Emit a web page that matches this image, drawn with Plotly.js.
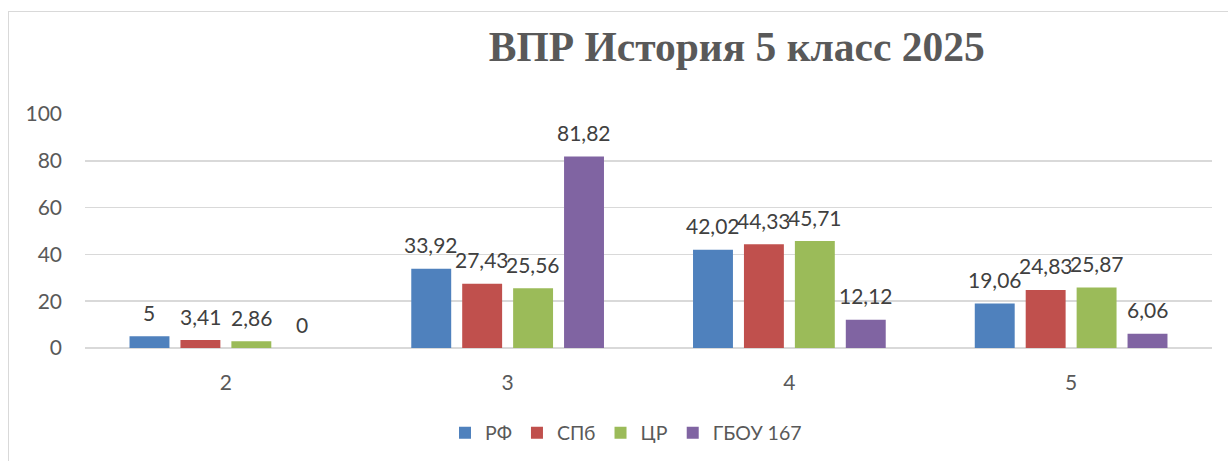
<!DOCTYPE html>
<html>
<head>
<meta charset="utf-8">
<script src="https://cdn.plot.ly/plotly-3.0.1.min.js"></script>
<style>
html,body{margin:0;padding:0;background:#fff;overflow:hidden;}
#chart{width:1228px;height:461px;position:absolute;left:0;top:0;}
#frame{position:absolute;left:8px;top:11px;width:1400px;height:600px;border:1.5px solid #D9D9D9;pointer-events:none;}
</style>
</head>
<body>
<div id="chart"></div>
<div id="frame"></div>
<script>
const categories = ['2', '3', '4', '5'];
const seriesNames = ['РФ', 'СПб', 'ЦР', 'ГБОУ 167'];
const valuesRF = [5, 33.92, 42.02, 19.06];
const valuesSPb = [3.41, 27.43, 44.33, 24.83];
const valuesCR = [2.86, 25.56, 45.71, 25.87];
const valuesGBOU = [0, 81.82, 12.12, 6.06];
const colors = ['#4F81BD', '#C0504D', '#9BBB59', '#8064A2'];
const yTicks = [0, 20, 40, 60, 80, 100];

const allValues = [valuesRF, valuesSPb, valuesCR, valuesGBOU];
const fontFam = 'Lato, "Open Sans", sans-serif';

const W = 1228, H = 461;
const margin = {l: 85, r: 16, t: 114, b: 113, autoexpand: false};
const bargap = 0.277, bargroupgap = 0.216;

const fmt = v => String(v).replace('.', ',');

const traces = allValues.map((vals, i) => ({
  type: 'bar',
  name: seriesNames[i],
  x: categories,
  y: vals,
  marker: {color: colors[i]},
  hoverinfo: 'x+y+name'
}));

// data labels positioned from data + grouped-bar offsets
const plotW = W - margin.l - margin.r;
const plotH = H - margin.t - margin.b;
const catW = plotW / categories.length;
const slotW = catW * (1 - bargap) / allValues.length;
const annotations = [];
allValues.forEach((vals, i) => {
  vals.forEach((v, j) => {
    annotations.push({
      x: j, y: v, xref: 'x', yref: 'y',
      text: fmt(v), showarrow: false,
      xshift: (i - (allValues.length - 1) / 2) * slotW,
      yshift: 24, yanchor: 'middle', xanchor: 'center',
      font: {family: fontFam, size: 21, color: '#404040'}
    });
  });
});

const layout = {
  width: W, height: H,
  margin: margin,
  paper_bgcolor: '#fff', plot_bgcolor: '#fff',
  barmode: 'group', bargap: bargap, bargroupgap: bargroupgap,
  title: {
    text: '<b>ВПР История 5 класс 2025</b>',
    font: {family: '"Liberation Serif", "Times New Roman", serif', size: 41.5, color: '#595959'},
    xref: 'container', yref: 'container',
    x: 0.600, y: 1 - 46 / H, xanchor: 'center', yanchor: 'middle'
  },
  xaxis: {
    type: 'category',
    range: [-0.5, categories.length - 0.5],
    autorange: false,
    showgrid: false, showline: false, zeroline: false,
    ticks: '',
    tickfont: {family: fontFam, size: 21, color: '#595959'},
    ticklabelstandoff: 20
  },
  yaxis: {
    range: [0, 100],
    autorange: false,
    tickvals: yTicks,
    ticktext: yTicks.map(String),
    showgrid: true, gridcolor: '#D9D9D9', gridwidth: 1.5,
    zeroline: true, zerolinecolor: '#D9D9D9', zerolinewidth: 1.5,
    showline: false, ticks: '',
    tickfont: {family: fontFam, size: 21, color: '#595959'},
    ticklabelstandoff: 22
  },
  showlegend: true,
  legend: {
    orientation: 'h',
    x: (626 - margin.l) / plotW, xanchor: 'center',
    y: (348 - 433) / plotH, yanchor: 'middle',
    font: {family: fontFam, size: 19.5, color: '#595959'},
    itemwidth: 30
  },
  annotations: annotations,
  separators: ', '
};

Plotly.newPlot('chart', traces, layout, {displayModeBar: false, staticPlot: true});
</script>
</body>
</html>
